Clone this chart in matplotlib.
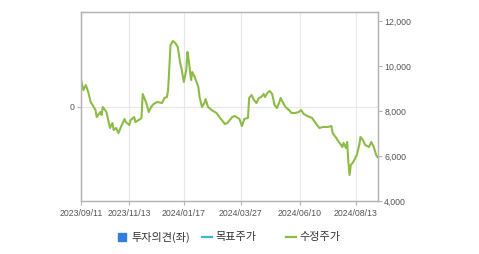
import matplotlib
matplotlib.use('Agg')
import matplotlib.pyplot as plt
from matplotlib.patches import Rectangle
from matplotlib.lines import Line2D

plt.rcParams['font.family'] = ['Liberation Sans', 'Noto Sans CJK KR', 'DejaVu Sans']

# trading-day index (0 = 2023/09/11) and adjusted close price
day_idx = [0, 2, 4, 6, 8, 12, 13, 16, 17, 18, 21, 24, 26, 27, 29, 31, 33, 36, 37, 40,
           41, 44, 45, 49, 50, 51, 53, 54, 56, 58, 60, 63, 67, 69, 71, 72, 74, 76, 78, 80,
           82, 83, 85, 87, 88, 89, 91, 92, 94, 97, 98, 100, 102, 103, 105, 108, 112, 115, 119, 121,
           125, 127, 131, 133, 135, 138, 139, 141, 143, 145, 147, 149, 151, 152, 154, 156, 158, 160, 162, 164,
           165, 168, 169, 172, 174, 177, 180, 182, 184, 187, 191, 195, 197, 200, 204, 207, 208, 211, 212, 215,
           216, 217, 219, 220, 221, 222, 223, 225, 228, 230, 231, 233, 235, 238, 240, 242, 244, 245]
price = [9380, 8930, 9155, 8840, 8400, 8040, 7730, 7955, 7820, 8180, 7955, 7245, 7465, 7155, 7245, 7020, 7290, 7645, 7510, 7380,
         7600, 7730, 7510, 7645, 7690, 8755, 8490, 8355, 7955, 8180, 8310, 8400, 8355, 8580, 8620, 8930, 10930, 11110, 11020, 10840,
         10130, 9910, 9290, 9820, 10620, 10270, 9380, 9730, 9510, 9070, 8620, 8180, 8355, 8530, 8180, 8040, 7910, 7690, 7420, 7465,
         7730, 7780, 7645, 7330, 7645, 7690, 8580, 8710, 8490, 8355, 8580, 8620, 8755, 8620, 8800, 8890, 8755, 8270, 8130, 8400,
         8580, 8270, 8180, 8040, 7910, 7910, 7955, 8040, 7870, 7780, 7690, 7380, 7245, 7290, 7290, 7330, 7020, 6800, 6710, 6490,
         6400, 6580, 6355, 6620, 5730, 5155, 5600, 5730, 6045, 6490, 6845, 6710, 6490, 6400, 6620, 6400, 6045, 5955]

tick_idx = [0, 40, 85, 132, 181, 227]
tick_labels = ['2023/09/11', '2023/11/13', '2024/01/17', '2024/03/27', '2024/06/10', '2024/08/13']
right_ticks = [4000, 6000, 8000, 10000, 12000]
legend_labels = ['투자의견(좌)', '목표주가', '수정주가']

green = '#8cbc47'
spine_c = '#b4b4b4'
text_c = '#555555'

fig = plt.figure(figsize=(4.79, 2.54), dpi=100)
ax = fig.add_axes([81 / 479, 1 - 201 / 254, 297 / 479, 189 / 254])
ax2 = ax.twinx()

ax2.plot(day_idx, price, color=green, lw=1.5, solid_joinstyle='round')
ax2.set_ylim(4000, 12400)
ax2.set_yticks(right_ticks)
ax2.set_yticklabels([f'{v:,}' for v in right_ticks])

ax.set_xlim(0, 245.5)
ax.set_ylim(-1, 1)
ax.set_yticks([0])
ax.set_yticklabels(['0'])
ax.set_xticks(tick_idx)
ax.set_xticklabels(tick_labels)
ax.grid(True, color='#e8e8e8', lw=0.8)
ax.set_axisbelow(True)

for a in (ax, ax2):
    for s in a.spines.values():
        s.set_color(spine_c)
        s.set_linewidth(0.9)
    a.tick_params(colors=spine_c, labelcolor=text_c, labelsize=6.3, length=3, width=0.8, pad=1.5)
ax.tick_params(axis='x', pad=3)

# legend drawn by hand to keep the original spacing
ly = 1 - 237 / 254
fig.add_artist(Rectangle((118 / 479, ly - 4 / 254), 8 / 479, 8 / 254, color='#2f7fe0', transform=fig.transFigure))
fig.text(131 / 479, ly, legend_labels[0], fontsize=8, color='#333333', va='center', family=['Noto Sans CJK KR'])
fig.add_artist(Line2D([202 / 479, 212 / 479], [ly, ly], color='#38b6d2', lw=1.6, transform=fig.transFigure))
fig.text(215 / 479, ly, legend_labels[1], fontsize=8, color='#333333', va='center', family=['Noto Sans CJK KR'])
fig.add_artist(Line2D([286 / 479, 296 / 479], [ly, ly], color=green, lw=1.6, transform=fig.transFigure))
fig.text(299 / 479, ly, legend_labels[2], fontsize=8, color='#333333', va='center', family=['Noto Sans CJK KR'])

fig.savefig('out.png', dpi=100)
